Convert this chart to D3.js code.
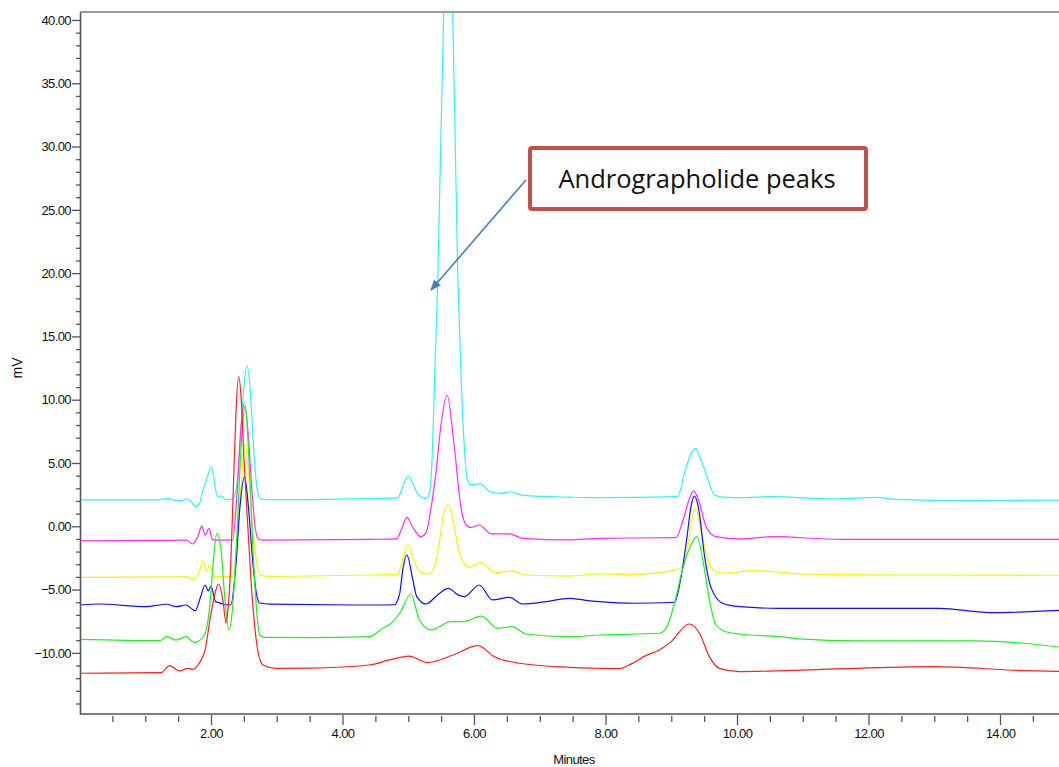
<!DOCTYPE html>
<html>
<head>
<meta charset="utf-8">
<script src="https://cdn.jsdelivr.net/npm/d3@7"></script>
<style>
  body { margin: 0; background: #fff; }
  svg { display: block; }
</style>
</head>
<body>
<svg id="chart"></svg>
<script>
// tick labels
const xTickValues = [2, 4, 6, 8, 10, 12, 14];
const yTickValues = [-10, -5, 0, 5, 10, 15, 20, 25, 30, 35, 40];

// traces, [minutes, mV]
const cyanTrace = [[0, 2.08], [1.2, 2.08], [1.32, 2.2], [1.45, 2.06], [1.52, 2.02], [1.65, 2.13], [1.72, 1.8], [1.77, 1.55], [1.82, 1.75], [1.88, 2.87], [1.92, 3.5], [1.97, 4.3], [2.0, 4.7], [2.03, 4.3], [2.06, 3.2], [2.10, 2.34], [2.155, 2.4], [2.23, 2.1], [2.33, 2.15], [2.40, 3.6], [2.45, 7], [2.50, 11], [2.55, 12.7], [2.60, 10.5], [2.65, 6], [2.70, 3], [2.75, 2.2], [2.85, 2.1], [3.5, 2.1], [4.4, 2.2], [4.84, 2.25], [4.92, 3.2], [5.0, 3.97], [5.07, 3.4], [5.15, 2.5], [5.27, 2.2], [5.32, 2.6], [5.37, 6.3], [5.40, 11.6], [5.45, 19.6], [5.536, 40], [5.607, 48], [5.678, 40], [5.754, 19.6], [5.805, 11.6], [5.85, 6.5], [5.90, 3.66], [5.95, 3.3], [6.10, 3.35], [6.24, 2.73], [6.40, 2.6], [6.56, 2.73], [6.70, 2.5], [6.84, 2.4], [7.45, 2.3], [7.9, 2.26], [9.1, 2.35], [9.2, 4.2], [9.28, 5.5], [9.37, 6.16], [9.43, 5.5], [9.51, 4.45], [9.56, 3.66], [9.66, 2.47], [9.8, 2.3], [10.04, 2.26], [10.54, 2.34], [11.5, 2.16], [12.1, 2.29], [12.42, 2.13], [13.6, 2.02], [15, 2.08]];

const magentaTrace = [[0, -1.16], [1.0, -1.12], [1.62, -1.1], [1.72, -1.4], [1.80, -0.8], [1.86, 0.02], [1.91, -0.69], [1.97, -0.16], [2.02, -1.03], [2.10, -1.1], [2.33, -1.08], [2.40, 3], [2.45, 7.5], [2.51, 9.7], [2.57, 7], [2.62, 3], [2.67, 0], [2.72, -1.0], [2.80, -1.1], [4.41, -1.03], [4.82, -1.0], [4.90, -0.2], [4.98, 0.71], [5.06, 0.0], [5.19, -0.82], [5.27, -0.5], [5.35, 1.55], [5.42, 4.18], [5.50, 8.1], [5.59, 10.37], [5.70, 6.3], [5.80, 1.55], [5.88, 0.1], [5.95, -0.1], [6.08, 0.1], [6.26, -0.6], [6.54, -0.6], [6.74, -0.95], [7.45, -1.08], [7.91, -0.95], [9.07, -0.9], [9.18, 0.5], [9.27, 2.08], [9.34, 2.79], [9.42, 2.0], [9.53, -0.03], [9.68, -0.82], [10.04, -1.0], [10.54, -0.82], [11.56, -1.03], [15, -1.03]];

const yellowTrace = [[0, -4.03], [1.62, -4.0], [1.75, -4.19], [1.82, -3.6], [1.88, -2.72], [1.93, -3.59], [1.98, -3.06], [2.05, -3.98], [2.33, -3.95], [2.40, -1], [2.46, 3.5], [2.52, 6.5], [2.58, 3.5], [2.64, -0.5], [2.70, -3], [2.76, -3.9], [2.9, -3.95], [4.41, -3.85], [4.84, -3.8], [4.92, -2.5], [5.0, -1.42], [5.08, -2.6], [5.18, -3.6], [5.31, -3.77], [5.40, -3.2], [5.48, -1.08], [5.53, 0.76], [5.61, 1.76], [5.70, -0.03], [5.78, -2.13], [5.93, -3.24], [6.10, -2.87], [6.33, -3.66], [6.56, -3.53], [6.79, -3.85], [7.45, -3.93], [7.91, -3.77], [8.42, -3.8], [9.07, -3.45], [9.17, -3.19], [9.25, -1.61], [9.31, 0.5], [9.37, 1.42], [9.45, -0.29], [9.56, -2.66], [9.68, -3.59], [9.83, -3.71], [10.24, -3.5], [10.65, -3.63], [11.05, -3.79], [12.57, -3.85], [15, -3.87]];

const blueTrace = [[0, -6.22], [0.30, -6.14], [1.01, -6.35], [1.33, -6.16], [1.47, -6.35], [1.62, -6.22], [1.76, -6.67], [1.84, -5.6], [1.91, -4.64], [1.96, -5.11], [2.0, -4.72], [2.07, -5.95], [2.30, -6.22], [2.38, -3], [2.44, 1.5], [2.51, 3.92], [2.57, 1.5], [2.63, -2.5], [2.69, -5.3], [2.74, -6.06], [2.9, -6.15], [4.41, -6.22], [4.79, -6.2], [4.87, -5.3], [4.92, -3.32], [4.98, -2.27], [5.07, -4.24], [5.13, -5.56], [5.27, -6.14], [5.45, -5.4], [5.61, -4.9], [5.75, -5.4], [5.85, -5.56], [6.08, -4.64], [6.28, -5.82], [6.54, -5.61], [6.74, -6.14], [7.10, -5.95], [7.45, -5.69], [7.7, -5.85], [7.91, -5.95], [8.42, -6.08], [9.05, -6.0], [9.15, -3.98], [9.24, -0.82], [9.30, 1.55], [9.35, 2.39], [9.42, 1.29], [9.50, -2.13], [9.60, -4.77], [9.78, -6.08], [10.04, -6.35], [10.65, -6.48], [13.08, -6.48], [13.84, -6.82], [15, -6.61]];

const greenTrace = [[0, -8.93], [1.22, -9.04], [1.33, -8.72], [1.47, -8.99], [1.62, -8.72], [1.75, -9.19], [1.90, -8.59], [1.98, -6.35], [2.04, -2.5], [2.09, -0.55], [2.15, -1.74], [2.20, -5.03], [2.27, -8.19], [2.33, -6.35], [2.40, 0], [2.46, 6.5], [2.52, 9.5], [2.58, 5], [2.64, -2], [2.70, -7], [2.74, -8.59], [2.81, -8.77], [3.5, -8.8], [4.41, -8.72], [4.61, -8.06], [4.74, -7.66], [4.87, -6.87], [5.04, -5.37], [5.17, -7.4], [5.35, -8.19], [5.65, -7.53], [5.85, -7.53], [6.11, -7.09], [6.36, -8.06], [6.58, -7.93], [6.79, -8.51], [7.45, -8.72], [7.91, -8.59], [8.82, -8.45], [8.92, -8.06], [9.05, -6.08], [9.17, -3.45], [9.30, -1.48], [9.39, -0.82], [9.48, -2.66], [9.58, -5.82], [9.68, -7.8], [9.83, -8.33], [10.04, -8.51], [10.65, -8.72], [10.95, -8.9], [11.81, -9.06], [13.59, -9.06], [14.35, -9.24], [15, -9.6]];

const redTrace = [[0, -11.61], [1.24, -11.56], [1.37, -11.01], [1.52, -11.43], [1.65, -11.22], [1.72, -11.3], [1.82, -10.82], [1.91, -9.77], [2.0, -6.87], [2.12, -4.56], [2.18, -5.82], [2.23, -7.66], [2.26, -6.5], [2.30, -3], [2.34, 3], [2.38, 9], [2.42, 11.8], [2.46, 10], [2.50, 5.5], [2.56, 0.0], [2.63, -5.82], [2.71, -9.77], [2.79, -10.96], [2.99, -11.22], [3.5, -11.2], [4.41, -10.96], [4.71, -10.56], [5.01, -10.25], [5.29, -10.77], [5.68, -10.17], [6.06, -9.43], [6.31, -10.3], [6.69, -10.82], [7.45, -11.14], [7.91, -11.22], [8.2, -11.25], [8.40, -10.85], [8.62, -10.2], [8.82, -9.77], [9.0, -9.11], [9.27, -7.72], [9.43, -8.45], [9.58, -10.3], [9.73, -11.22], [10.04, -11.48], [11.3, -11.3], [12.98, -11.09], [14.35, -11.4], [15, -11.48]];

const traces = [
    { data: cyanTrace, color: "#2ef5f5" },
    { data: magentaTrace, color: "#ff2cff" },
    { data: yellowTrace, color: "#f5f500" },
    { data: blueTrace, color: "#1010ff" },
    { data: greenTrace, color: "#22ee22" },
    { data: redTrace, color: "#ff2020" }
];

const width = 1059, height = 767;
const plot = { left: 80, top: 12, bottom: 714 };

const svg = d3.select("#chart")
    .attr("width", width)
    .attr("height", height);

const x = d3.scaleLinear().domain([0, 15]).range([79.5, 79.5 + 15 * 65.75]);
const y = d3.scaleLinear().domain([-14.83, 40.63]).range([plot.bottom, plot.top]);

svg.append("clipPath").attr("id", "clip")
    .append("rect")
    .attr("x", plot.left)
    .attr("y", plot.top)
    .attr("width", width - plot.left)
    .attr("height", plot.bottom - plot.top);

// top border
svg.append("line")
    .attr("x1", plot.left).attr("x2", width)
    .attr("y1", plot.top).attr("y2", plot.top)
    .attr("stroke", "#7a7a7a").attr("stroke-width", 1.5);

// traces
const line = d3.line()
    .x(d => x(d[0]))
    .y(d => y(d[1]))
    .curve(d3.curveMonotoneX);

svg.append("g").attr("clip-path", "url(#clip)")
    .selectAll("path")
    .data(traces)
    .enter()
    .append("path")
    .attr("d", d => line(d.data))
    .attr("fill", "none")
    .attr("stroke", d => d.color)
    .attr("stroke-width", 1.2)
    .attr("stroke-linejoin", "round");

// axes
const axisColor = "#555";
const fontFam = "'Liberation Sans', Arial, sans-serif";

const yMinor = d3.range(-14, 41).filter(v => v % 5 !== 0);
const xMinor = d3.range(0.5, 15, 0.5).filter(v => v % 2 !== 0);

const yAxisMinor = svg.append("g")
    .attr("transform", `translate(${plot.left},0)`)
    .call(d3.axisLeft(y).tickValues(yMinor).tickSize(4).tickSizeOuter(0).tickFormat(""));
yAxisMinor.select(".domain").remove();

const yAxis = svg.append("g")
    .attr("transform", `translate(${plot.left},0)`)
    .call(d3.axisLeft(y).tickValues(yTickValues).tickSize(8).tickSizeOuter(0)
        .tickPadding(1).tickFormat(d3.format(".2f")));

const xAxisMinor = svg.append("g")
    .attr("transform", `translate(0,${plot.bottom})`)
    .call(d3.axisBottom(x).tickValues(xMinor).tickSize(8).tickSizeOuter(0).tickFormat(""));
xAxisMinor.select(".domain").remove();
xAxisMinor.selectAll(".tick line").attr("y1", 2);

const xAxis = svg.append("g")
    .attr("transform", `translate(0,${plot.bottom})`)
    .call(d3.axisBottom(x).tickValues(xTickValues).tickSize(11).tickSizeOuter(0)
        .tickFormat(d3.format(".2f")));
xAxis.selectAll(".tick line").attr("y1", 1);
xAxis.select(".domain").attr("d", `M${plot.left},0H${width}`);
xAxis.selectAll(".tick text").attr("y", 15);

[yAxisMinor, yAxis, xAxisMinor, xAxis].forEach(g => {
    g.selectAll("line").attr("stroke", axisColor).attr("stroke-width", 1.3);
    g.selectAll(".domain").attr("stroke", axisColor).attr("stroke-width", 1.6);
    g.selectAll("text")
        .attr("fill", "#111")
        .style("font-family", fontFam)
        .style("font-size", "13px")
        .style("letter-spacing", "-0.6px");
});

// axis titles
svg.append("text")
    .attr("x", 574)
    .attr("y", 764)
    .attr("text-anchor", "middle")
    .style("font-family", fontFam)
    .style("font-size", "13px")
    .style("letter-spacing", "-0.6px")
    .attr("fill", "#111")
    .text("Minutes");

svg.append("text")
    .attr("transform", "translate(22,368) rotate(-90)")
    .attr("text-anchor", "middle")
    .style("font-family", fontFam)
    .style("font-size", "14px")
    .attr("fill", "#111")
    .text("mV");

// annotation
const defs = svg.append("defs");
defs.append("marker")
    .attr("id", "arrow")
    .attr("viewBox", "0 0 10 10")
    .attr("refX", 9).attr("refY", 5)
    .attr("markerWidth", 7).attr("markerHeight", 7)
    .attr("orient", "auto")
    .append("path")
    .attr("d", "M0,1L10,5L0,9Z")
    .attr("fill", "#4a7ebb");

svg.append("line")
    .attr("x1", 526).attr("y1", 180)
    .attr("x2", 431).attr("y2", 290)
    .attr("stroke", "#4a7ebb")
    .attr("stroke-width", 1.6)
    .attr("marker-end", "url(#arrow)");

svg.append("rect")
    .attr("x", 530).attr("y", 148)
    .attr("width", 336).attr("height", 61)
    .attr("rx", 2)
    .attr("fill", "#fff")
    .attr("stroke", "#c0504d")
    .attr("stroke-width", 4);

svg.append("text")
    .attr("x", 697).attr("y", 188)
    .attr("text-anchor", "middle")
    .style("font-family", "'Open Sans', 'Noto Sans', sans-serif")
    .style("font-size", "25.5px")
    .attr("fill", "#111")
    .text("Andrographolide peaks");
</script>
</body>
</html>
